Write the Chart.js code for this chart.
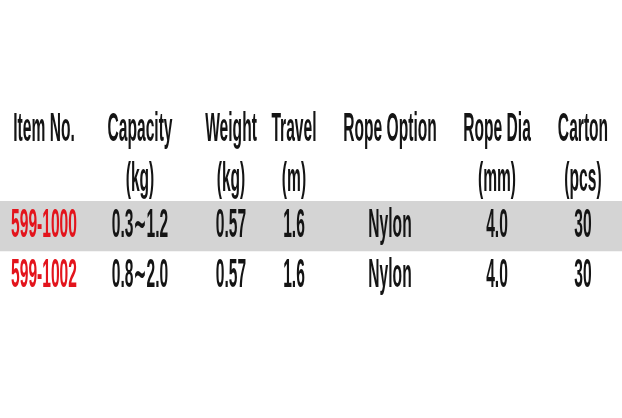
<!DOCTYPE html>
<html><head><meta charset="utf-8">
<script src="https://cdn.jsdelivr.net/npm/chart.js@4.4.0/dist/chart.umd.min.js"></script>
<style>html,body{margin:0;padding:0;background:#fff;}#wrap{width:622px;height:418px;}</style>
</head><body><div id="wrap"><canvas id="c" width="622" height="418"></canvas></div>
<script>
// ---- data ----
const headerTop = ["Item No.", "Capacity", "Weight", "Travel", "Rope Option", "Rope Dia", "Carton"];
const headerUnits = ["", "(kg)", "(kg)", "(m)", "", "(mm)", "(pcs)"];
const itemNos = ["599-1000", "599-1002"];
const capacity = ["0.3∼1.2", "0.8∼2.0"];
const weight = [0.57, 0.57];
const travel = [1.6, 1.6];
const ropeOption = ["Nylon", "Nylon"];
const ropeDia = [4.0, 4.0];
const carton = [30, 30];

// ---- layout / style ----
const X_MIN = 0, X_MAX = 622;
const columnCenters = [44, 140, 231, 294, 390, 497, 583];
const FONT = "bold 40px 'Liberation Sans', 'DejaVu Sans', sans-serif";
const SX = 0.39;
const TEXT = "#141414", RED = "#e3141c", BAND = "#d4d4d4";

const cellText = (r) => [
  itemNos[r], capacity[r], weight[r].toFixed(2), travel[r].toFixed(1),
  ropeOption[r], ropeDia[r].toFixed(1), String(carton[r])
];

const tablePlugin = {
  id: 'tableText',
  afterDatasetsDraw(chart) {
    const {ctx, scales: {x, y}} = chart;
    const y0 = y.getPixelForValue(0);
    const pitch = Math.abs(y.getPixelForValue(1) - y0);
    ctx.save();
    ctx.font = FONT;
    ctx.textAlign = 'center';
    ctx.textBaseline = 'middle';
    const put = (t, px, py, col) => {
      ctx.save(); ctx.translate(px, py); ctx.scale(SX, 1);
      ctx.fillStyle = col; ctx.fillText(t, 0, 0); ctx.restore();
    };
    headerTop.forEach((h, i) => {
      const px = x.getPixelForValue(columnCenters[i]);
      put(h, px, y0 - pitch * 1.92, TEXT);
      if (headerUnits[i]) put(headerUnits[i], px, y0 - pitch * 0.92, TEXT);
    });
    itemNos.forEach((_, r) => {
      const py = y.getPixelForValue(r);
      cellText(r).forEach((t, i) => {
        put(t, x.getPixelForValue(columnCenters[i]), py, i === 0 ? RED : TEXT);
      });
    });
    ctx.restore();
  }
};

new Chart(document.getElementById('c'), {
  type: 'bar',
  data: {
    labels: itemNos,
    datasets: [{
      data: itemNos.map((_, i) => i % 2 === 0 ? [X_MIN, X_MAX] : null),
      backgroundColor: BAND,
      borderWidth: 0,
      barPercentage: 1,
      categoryPercentage: 1
    }]
  },
  options: {
    indexAxis: 'y',
    responsive: false,
    animation: false,
    layout: {padding: {top: 201, bottom: 117, left: 0, right: 0}},
    plugins: {legend: {display: false}, tooltip: {enabled: false}},
    scales: {
      x: {type: 'linear', min: X_MIN, max: X_MAX, display: false},
      y: {type: 'category', display: false, offset: true}
    }
  },
  plugins: [tablePlugin]
});
</script></body></html>
